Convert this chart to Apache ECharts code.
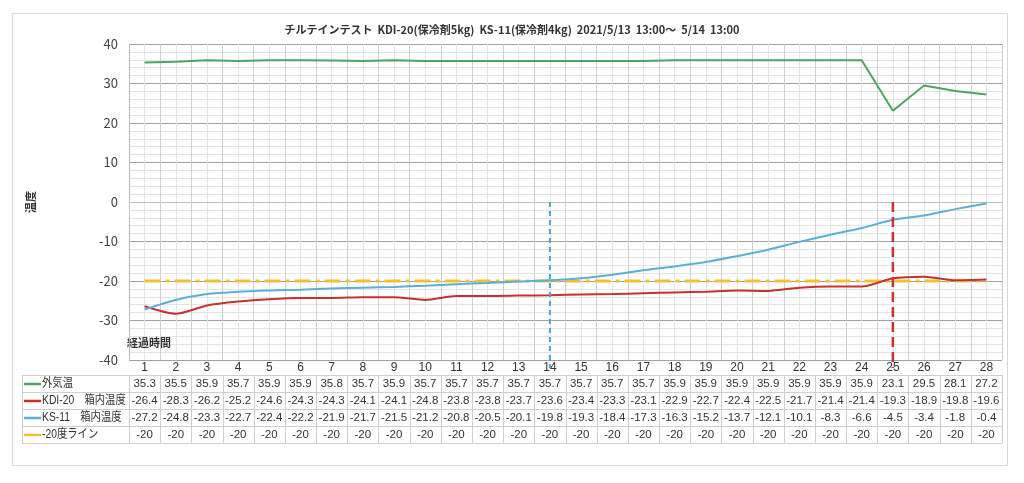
<!DOCTYPE html>
<html><head><meta charset="utf-8">
<script src="https://cdn.jsdelivr.net/npm/echarts@6/dist/echarts.min.js"></script>
<style>html,body{margin:0;padding:0;background:#fff}#c{width:1024px;height:483px}</style>
</head><body><div id="c"></div>
<script>
const categories = ['1','2','3','4','5','6','7','8','9','10','11','12','13','14','15','16','17','18','19','20','21','22','23','24','25','26','27','28'];
const outsideTemp = [35.3,35.5,35.9,35.7,35.9,35.9,35.8,35.7,35.9,35.7,35.7,35.7,35.7,35.7,35.7,35.7,35.7,35.9,35.9,35.9,35.9,35.9,35.9,35.9,23.1,29.5,28.1,27.2];
const kdi20 = [-26.4,-28.3,-26.2,-25.2,-24.6,-24.3,-24.3,-24.1,-24.1,-24.8,-23.8,-23.8,-23.7,-23.6,-23.4,-23.3,-23.1,-22.9,-22.7,-22.4,-22.5,-21.7,-21.4,-21.4,-19.3,-18.9,-19.8,-19.6];
const ks11 = [-27.2,-24.8,-23.3,-22.7,-22.4,-22.2,-21.9,-21.7,-21.5,-21.2,-20.8,-20.5,-20.1,-19.8,-19.3,-18.4,-17.3,-16.3,-15.2,-13.7,-12.1,-10.1,-8.3,-6.6,-4.5,-3.4,-1.8,-0.4];
const line20 = [-20,-20,-20,-20,-20,-20,-20,-20,-20,-20,-20,-20,-20,-20,-20,-20,-20,-20,-20,-20,-20,-20,-20,-20,-20,-20,-20,-20];
const seriesNames = ['外気温','KDI-20　箱内温度','KS-11　箱内温度','-20度ライン'];
const seriesColors = ['#4FA463','#C9312B','#5AAFDB','#F4C030'];
const titleText = 'チルテインテスト  KDI-20(保冷剤5kg)  KS-11(保冷剤4kg)  2021/5/13  13:00～  5/14  13:00';
const yAxisName = '温度';
const xAxisName = '経過時間';
// vertical reference marks: [category index, from value, to value]
const blueMark = [13, 0, -42];  // category "14"
const redMark = [24, 0, -42];   // category "25"

const FONT = '"Noto Sans CJK JP","Noto Sans",sans-serif';
const TFONT = '"Liberation Sans","Noto Sans CJK JP",sans-serif';
const el = document.getElementById('c');
const chart = echarts.init(el, null, {renderer:'canvas'});

const option = {
  animation:false,
  backgroundColor:'#fff',
  title:{text:titleText,left:'center',top:19,textStyle:{fontSize:11,fontWeight:'bold',color:'#333',fontFamily:FONT}},
  grid:{left:129,right:22,top:44,bottom:123,containLabel:false},
  xAxis:[
    {type:'category',data:categories,boundaryGap:true,position:'bottom',
     axisLine:{show:true,lineStyle:{color:'#bdbdbd',width:1}},
     axisTick:{show:true,interval:0,length:15,lineStyle:{color:'#cfcfcf'}},
     axisLabel:{interval:0,margin:2,fontSize:12,color:'#333',fontFamily:TFONT},
     splitLine:{show:false}},
    {type:'value',min:0,max:28,interval:1,position:'top',
     axisLine:{show:false},axisTick:{show:false},axisLabel:{show:false},
     splitLine:{show:true,lineStyle:{color:'#cfcfcf',width:1}},
     minorTick:{show:false,splitNumber:2},
     minorSplitLine:{show:true,lineStyle:{color:'#e4e4e4',width:1}}}
  ],
  yAxis:{type:'value',min:-40,max:40,interval:10,
    name:yAxisName,nameLocation:'middle',nameGap:93,nameRotate:90,
    nameTextStyle:{fontSize:11,fontWeight:'bold',color:'#333',fontFamily:FONT},
    axisLine:{show:true,lineStyle:{color:'#bdbdbd'}},axisTick:{show:false},
    axisLabel:{fontSize:13,color:'#444',margin:11,fontFamily:FONT},
    splitLine:{show:true,lineStyle:{color:'#a0a0a0',width:1}},
    minorTick:{show:false,splitNumber:5},
    minorSplitLine:{show:true,lineStyle:{color:'#e4e4e4',width:1}}},
  series:[
    {name:seriesNames[3],type:'line',data:line20,symbol:'none',z:1,
     lineStyle:{color:seriesColors[3],width:3,type:[16,5,4,5]}},
    {name:seriesNames[0],type:'line',data:outsideTemp,symbol:'none',z:3,
     lineStyle:{color:seriesColors[0],width:2}},
    {name:seriesNames[1],type:'line',data:kdi20,symbol:'none',smooth:0.25,z:3,
     lineStyle:{color:seriesColors[1],width:2}},
    {name:seriesNames[2],type:'line',data:ks11,symbol:'none',smooth:0.25,z:4,
     lineStyle:{color:seriesColors[2],width:2}}
  ]
};
chart.setOption(option);

const px = (i,v)=>chart.convertToPixel({xAxisIndex:0,yAxisIndex:0},[i,v]);
// Data table under the plot, aligned with the axes
const rows = [outsideTemp,kdi20,ks11,line20];
const xLeft = chart.convertToPixel({xAxisIndex:1},0);
const xRight = chart.convertToPixel({xAxisIndex:1},28);
const yBase = chart.convertToPixel({yAxisIndex:0},-40);
const headerH = 15, rowH = 17, tableLeft = 22;
const tableTop = yBase + headerH;
const tableBottom = tableTop + rowH*rows.length;
const lineStyle = {stroke:'#cfcfcf',lineWidth:1};
const g = [];
// outer frame
g.push({type:'rect',shape:{x:12.5,y:13.5,width:995,height:452},style:{fill:'none',stroke:'#d9d9d9',lineWidth:1},silent:true,z:-10});
// horizontal borders
for(let r=0;r<=rows.length;r++){
  const y = Math.round(tableTop + r*rowH)+0.5;
  g.push({type:'line',shape:{x1:tableLeft,y1:y,x2:xRight,y2:y},style:lineStyle,silent:true});
}
// vertical borders
g.push({type:'line',shape:{x1:tableLeft+0.5,y1:tableTop,x2:tableLeft+0.5,y2:tableBottom},style:lineStyle,silent:true});
for(let i=0;i<=categories.length;i++){
  const x = Math.round(chart.convertToPixel({xAxisIndex:1},i))+0.5;
  g.push({type:'line',shape:{x1:x,y1:tableTop,x2:x,y2:tableBottom},style:lineStyle,silent:true});
}
// cells
rows.forEach((vals,r)=>{
  const cy = tableTop + r*rowH + rowH/2 + 0.5;
  g.push({type:'line',shape:{x1:24,y1:cy,x2:41,y2:cy},style:{stroke:seriesColors[r],lineWidth:2.5},silent:true});
  g.push({type:'text',x:42,y:cy,scaleX:0.86,style:{text:seriesNames[r],fontSize:12,fill:'#333',fontFamily:TFONT,verticalAlign:'middle',align:'left'},silent:true});
  vals.forEach((v,i)=>{
    const cx = chart.convertToPixel({xAxisIndex:0},i);
    g.push({type:'text',x:cx,y:cy,style:{text:String(v),fontSize:11.5,fill:'#333',fontFamily:TFONT,align:'center',verticalAlign:'middle'},silent:true});
  });
});
// vertical dashed reference lines
[[blueMark,'#4BA7CB',2,[5,4]],[redMark,'#D0302A',2.5,[10,5]]].forEach(([m,c,w,d])=>{
  const p1 = px(m[0],m[1]), p2 = px(m[0],m[2]);
  g.push({type:'line',shape:{x1:p1[0],y1:p1[1],x2:p2[0],y2:p2[1]},style:{stroke:c,lineWidth:w,lineDash:d},z:50,silent:true});
});
// x axis name
g.push({type:'text',x:xLeft-2,y:yBase-17,style:{text:xAxisName,fontSize:11,fontWeight:'bold',fill:'#333',fontFamily:FONT,align:'left',verticalAlign:'middle'},silent:true});
chart.setOption({graphic:{elements:g}});
</script>
</body></html>
